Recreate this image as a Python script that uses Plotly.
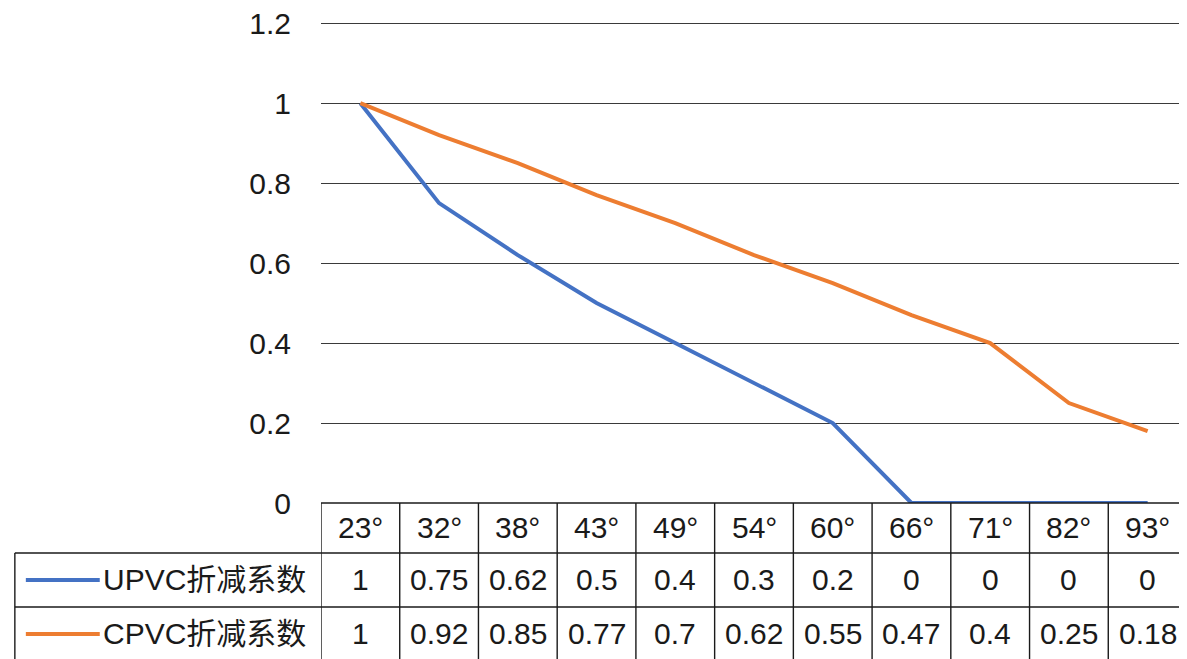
import plotly.graph_objects as go

categories = ["23°", "32°", "38°", "43°", "49°", "54°", "60°", "66°", "71°", "82°", "93°"]
upvc = [1, 0.75, 0.62, 0.5, 0.4, 0.3, 0.2, 0, 0, 0, 0]
cpvc = [1, 0.92, 0.85, 0.77, 0.7, 0.62, 0.55, 0.47, 0.4, 0.25, 0.18]
series_names = ["UPVC折减系数", "CPVC折减系数"]
y_ticks = [0, 0.2, 0.4, 0.6, 0.8, 1, 1.2]
y_tick_text = ["0", "0.2", "0.4", "0.6", "0.8", "1", "1.2"]

W, H = 1187, 659
OFF = 8  # page body margin
YMAX = 1.203
# page-pixel targets
PLOT_LEFT, PLOT_RIGHT = 320.5, 1187.5
Y0_PIX, Y12_PIX = 503, 23
unit = (Y0_PIX - Y12_PIX) / 1.2
top_pix = Y0_PIX - unit * YMAX

ML = PLOT_LEFT - OFF
MR = W - (PLOT_RIGHT - OFF)
MT = top_pix - OFF
MB = H - (Y0_PIX - OFF)
PH = H - MT - MB
PW = W - ML - MR

BLUE = "#4472C4"
ORANGE = "#ED7D31"
TXT = "#1a1a1a"
GRID = "#3a3a3a"
FONT = "Liberation Sans, Noto Sans CJK SC, sans-serif"
FS = 30


def py(pix):
    """page pixel y (from top) -> paper y"""
    return (H - MB - (pix - OFF)) / PH


def px(pix):
    """page pixel x -> paper x"""
    return (pix - OFF - ML) / PW


fig = go.Figure()
fig.add_trace(go.Scatter(x=categories, y=upvc, mode="lines", name=series_names[0],
                         line=dict(color=BLUE, width=4), showlegend=False))
fig.add_trace(go.Scatter(x=categories, y=cpvc, mode="lines", name=series_names[1],
                         line=dict(color=ORANGE, width=4), showlegend=False))

shapes = []
annotations = []

row_edges = [503, 553, 607, 661]
leg_left = 14
n = len(categories)
LW = 1.4

for k in range(n + 1):
    shapes.append(dict(type="line", xref="x", yref="paper", x0=k - 0.5, x1=k - 0.5,
                       y0=py(row_edges[0]), y1=py(row_edges[3]),
                       line=dict(color=TXT, width=LW)))
shapes.append(dict(type="line", xref="paper", yref="paper", x0=0, x1=1,
                   y0=py(row_edges[0]), y1=py(row_edges[0]), line=dict(color=TXT, width=LW)))
for r in (1, 2, 3):
    shapes.append(dict(type="line", xref="paper", yref="paper", x0=px(leg_left), x1=1,
                       y0=py(row_edges[r]), y1=py(row_edges[r]), line=dict(color=TXT, width=LW)))
shapes.append(dict(type="line", xref="paper", yref="paper", x0=px(leg_left), x1=px(leg_left),
                   y0=py(row_edges[1]), y1=py(row_edges[3]), line=dict(color=TXT, width=LW)))

hc = (row_edges[0] + row_edges[1]) / 2
for c in categories:
    annotations.append(dict(x=c, y=py(hc), xref="x", yref="paper", text=c, showarrow=False,
                            font=dict(size=FS, color=TXT, family=FONT), xanchor="center", yanchor="middle"))

for r, (vals, name, col) in enumerate([(upvc, series_names[0], BLUE), (cpvc, series_names[1], ORANGE)]):
    yc = (row_edges[r + 1] + row_edges[r + 2]) / 2
    for c, v in zip(categories, vals):
        annotations.append(dict(x=c, y=py(yc), xref="x", yref="paper", text=f"{v:g}", showarrow=False,
                                font=dict(size=FS, color=TXT, family=FONT), xanchor="center", yanchor="middle"))
    shapes.append(dict(type="line", xref="paper", yref="paper", x0=px(25), x1=px(99),
                       y0=py(yc), y1=py(yc), line=dict(color=col, width=4)))
    annotations.append(dict(x=px(100), y=py(yc), xref="paper", yref="paper", text=name, showarrow=False,
                            font=dict(size=FS, color=TXT, family=FONT), xanchor="left", yanchor="middle"))

fig.update_layout(
    width=W, height=H,
    margin=dict(l=ML, r=MR, t=MT, b=MB, autoexpand=False),
    paper_bgcolor="white", plot_bgcolor="white",
    xaxis=dict(type="category", range=[-0.5, n - 0.5], showticklabels=False, showgrid=False,
               zeroline=False, showline=False, ticks="", automargin=False),
    yaxis=dict(range=[0, YMAX], tickvals=y_ticks, ticktext=y_tick_text, showgrid=True,
               gridcolor=GRID, gridwidth=1.2, zeroline=False, showline=False, ticks="",
               ticklabelstandoff=29, ticklabeloverflow="allow", automargin=False,
               tickfont=dict(size=FS, color=TXT, family=FONT)),
    shapes=shapes, annotations=annotations,
)

fig.write_html("out.html")
